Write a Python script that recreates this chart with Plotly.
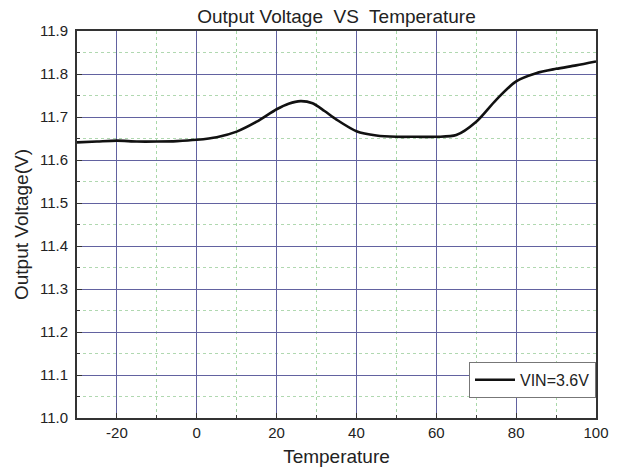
import plotly.graph_objects as go

temperature = [-30, -25, -20, -15, -10, -5, 0, 5, 10, 15, 20, 23, 26, 29, 32, 35, 40, 45, 50, 55, 60, 65, 70, 75, 80, 85, 90, 95, 100]
voltage = [11.641, 11.643, 11.645, 11.643, 11.643, 11.644, 11.647, 11.653, 11.666, 11.689, 11.718, 11.731, 11.737, 11.732, 11.714, 11.694, 11.667, 11.657, 11.654, 11.654, 11.654, 11.658, 11.689, 11.740, 11.783, 11.802, 11.812, 11.820, 11.829]
series_name = "VIN=3.6V"
x_tick_vals = [-20, 0, 20, 40, 60, 80, 100]
x_tick_labels = ["-20", "0", "20", "40", "60", "80", "100"]
y_tick_vals = [11.0, 11.1, 11.2, 11.3, 11.4, 11.5, 11.6, 11.7, 11.8, 11.9]
y_tick_labels = ["11.0", "11.1", "11.2", "11.3", "11.4", "11.5", "11.6", "11.7", "11.8", "11.9"]

fig = go.Figure()
fig.add_trace(go.Scatter(x=temperature, y=voltage, mode="lines", name=series_name,
                         line=dict(color="#111", width=2.6, shape="spline", smoothing=0.8)))

font = "Liberation Sans, Arial, sans-serif"
fig.update_layout(
    width=618, height=471,
    margin=dict(l=77, r=22, t=31, b=53),
    paper_bgcolor="white", plot_bgcolor="white",
    font=dict(family=font, color="#222", size=15),
    title=dict(text="Output Voltage  VS  Temperature", x=(77 + 596) / 2 / 618, xanchor="center",
               y=1 - 16 / 471, yanchor="middle", font=dict(size=19, family=font, color="#222")),
    showlegend=True,
    legend=dict(x=1.0, y=0.052, xanchor="right", yanchor="bottom",
                bgcolor="white", bordercolor="#777", borderwidth=1,
                font=dict(size=16, family=font, color="#222"),
                itemwidth=40, tracegroupgap=0),
)
fig.update_xaxes(range=[-30, 100], tickvals=x_tick_vals, ticktext=x_tick_labels, automargin=False,
                 showgrid=True, gridcolor="#6262a0", gridwidth=1,
                 minor=dict(dtick=10, tick0=0, showgrid=True, gridcolor="#a8d8a8", griddash="dot", gridwidth=1,
                            ticks="inside", ticklen=3, tickcolor="#333"),
                 ticks="inside", ticklen=5, tickcolor="#333", tickfont=dict(size=15),
                 showline=True, linecolor="#333", linewidth=2, mirror=True, zeroline=False,
                 title=dict(text="Temperature", font=dict(size=19, family=font), standoff=10))
fig.update_yaxes(range=[11.0, 11.9], tickvals=y_tick_vals, ticktext=y_tick_labels, automargin=False,
                 showgrid=True, gridcolor="#6262a0", gridwidth=1,
                 minor=dict(dtick=0.05, tick0=11.0, showgrid=True, gridcolor="#b0d8b0", griddash="dot", gridwidth=1,
                            ticks="inside", ticklen=3, tickcolor="#333"),
                 ticks="inside", ticklen=5, tickcolor="#333", tickfont=dict(size=15), ticklabelstandoff=4,
                 showline=True, linecolor="#333", linewidth=2, mirror=True, zeroline=False,
                 title=dict(text="Output Voltage(V)", font=dict(size=19, family=font), standoff=6))

fig.write_html("out.html", config={"displayModeBar": False},
               post_script="document.body.style.margin='0';")
